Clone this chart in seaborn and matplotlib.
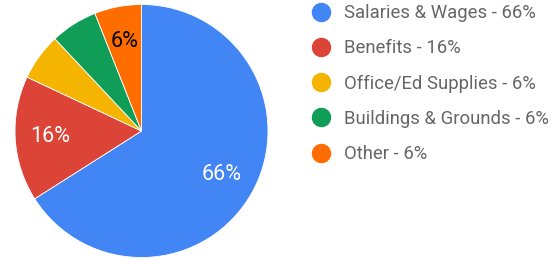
import matplotlib
matplotlib.use("Agg")
import matplotlib.pyplot as plt
from matplotlib.lines import Line2D
import seaborn as sns

categories = ["Salaries & Wages", "Benefits", "Office/Ed Supplies", "Buildings & Grounds", "Other"]
values = [66, 16, 6, 6, 6]
colors = ["#4285F4", "#DB4437", "#F4B400", "#0F9D58", "#FF6D00"]
# labels shown inside the slices (Google hides some small ones)
show_label = [True, True, False, False, True]
label_colors = ["white", "white", "black", "black", "black"]

sns.set_style("white")
plt.rcParams["font.family"] = ["Roboto", "DejaVu Sans"]

fig = plt.figure(figsize=(5.59, 2.60), dpi=100)
ax = fig.add_axes([15 / 559, 2.5 / 260, 253 / 559, 253 / 260])

wedges, texts, autotexts = ax.pie(
    values, colors=colors, startangle=90, counterclock=False,
    autopct=lambda p: f"{p:.0f}%", pctdistance=0.72,
    wedgeprops={"edgecolor": "white", "linewidth": 0.6},
    textprops={"fontsize": 15.5},
)
for t, show, c in zip(autotexts, show_label, label_colors):
    t.set_color(c)
    if not show:
        t.set_text("")
ax.set_xlim(-1, 1)
ax.set_ylim(-1, 1)
ax.set_aspect("equal")

handles = [Line2D([0], [0], marker="o", linestyle="", markersize=13,
                  markerfacecolor=c, markeredgecolor=c) for c in colors]
labels = [f"{n} - {v}%" for n, v in zip(categories, values)]
leg = fig.legend(handles, labels, loc="upper left", bbox_to_anchor=(304 / 559, 1.012),
                 frameon=False, fontsize=13.3, labelspacing=0.93, handletextpad=0.78,
                 borderaxespad=0.0, handlelength=1.0)
for t in leg.get_texts():
    t.set_color("#666666")

fig.savefig("out.png", dpi=100)
